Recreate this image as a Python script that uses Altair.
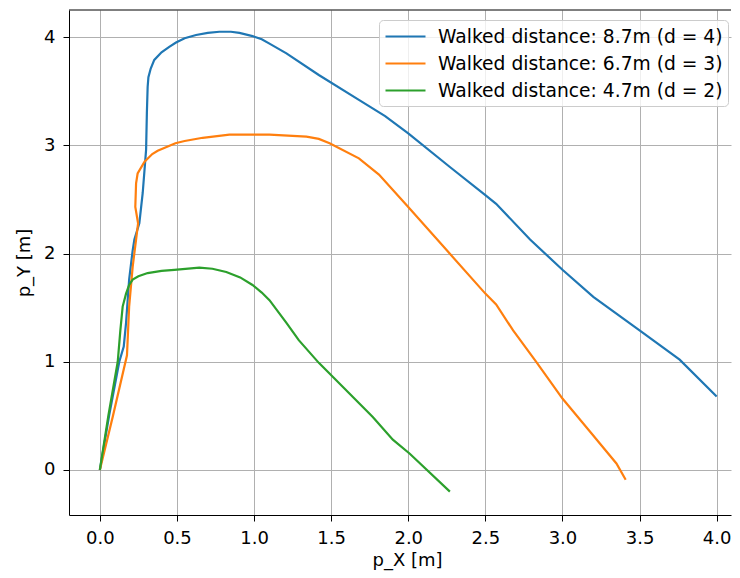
import altair as alt
import pandas as pd

labels = ["Walked distance: 8.7m (d = 4)",
          "Walked distance: 6.7m (d = 3)",
          "Walked distance: 4.7m (d = 2)"]
colors = ["#1f77b4", "#ff7f0e", "#2ca02c"]

blue_x = [0.0, 0.06, 0.126, 0.155, 0.17, 0.19, 0.213, 0.224, 0.256, 0.278, 0.30, 0.305, 0.31,
          0.315, 0.33, 0.353, 0.40, 0.45, 0.494, 0.55, 0.624, 0.70, 0.775, 0.85, 0.905, 0.99,
          1.05, 1.10, 1.21, 1.42, 1.68, 1.85, 2.0, 2.27, 2.50, 2.57, 2.79, 3.0, 3.20, 3.50,
          3.76, 4.0]
blue_y = [0.0, 0.5, 1.0, 1.14, 1.36, 1.76, 2.03, 2.13, 2.28, 2.56, 2.96, 3.30, 3.54,
          3.63, 3.71, 3.79, 3.86, 3.91, 3.95, 3.99, 4.02, 4.04, 4.05, 4.05, 4.04, 4.01,
          3.98, 3.94, 3.85, 3.65, 3.42, 3.27, 3.11, 2.80, 2.54, 2.46, 2.13, 1.85, 1.60, 1.29,
          1.02, 0.68]

orange_x = [0.0, 0.085, 0.176, 0.19, 0.213, 0.235, 0.248, 0.23, 0.235, 0.245, 0.29, 0.34,
            0.375, 0.49, 0.55, 0.667, 0.84, 1.10, 1.34, 1.42, 1.49, 1.68, 1.81, 2.0, 2.25,
            2.50, 2.57, 2.68, 2.83, 3.0, 3.17, 3.35, 3.41]
orange_y = [0.0, 0.5, 1.06, 1.51, 1.88, 2.13, 2.28, 2.43, 2.65, 2.74, 2.85, 2.92,
            2.95, 3.02, 3.04, 3.07, 3.10, 3.10, 3.08, 3.06, 3.02, 2.88, 2.73, 2.43, 2.03,
            1.63, 1.53, 1.29, 1.0, 0.66, 0.37, 0.06, -0.09]

green_x = [0.0, 0.055, 0.116, 0.133, 0.148, 0.17, 0.19, 0.213, 0.25, 0.31, 0.40, 0.483,
           0.645, 0.73, 0.82, 0.91, 0.99, 1.05, 1.10, 1.21, 1.29, 1.42, 1.575, 1.77, 1.90,
           2.01, 2.27]
green_y = [0.0, 0.5, 1.0, 1.29, 1.51, 1.63, 1.71, 1.76, 1.79, 1.82, 1.84, 1.85,
           1.87, 1.86, 1.83, 1.78, 1.71, 1.64, 1.57, 1.36, 1.20, 0.99, 0.77, 0.49, 0.28,
           0.15, -0.20]

x_ticks = [0.0, 0.5, 1.0, 1.5, 2.0, 2.5, 3.0, 3.5, 4.0]
y_ticks = [0, 1, 2, 3, 4]

rows = []
for lab, xs, ys in zip(labels, [blue_x, orange_x, green_x], [blue_y, orange_y, green_y]):
    for i, (a, b) in enumerate(zip(xs, ys)):
        rows.append({"series": lab, "i": i, "px": a, "py": b})
df = pd.DataFrame(rows)

W, H = 662, 505
FONT = "DejaVu Sans"

lines = alt.Chart(df).mark_line(strokeWidth=2.2, clip=True).encode(
    x=alt.X("px:Q",
            scale=alt.Scale(domain=[-0.2, 4.093], nice=False, zero=False),
            axis=alt.Axis(values=x_ticks, format=".1f", title="p_X [m]", titleX=338,
                          titlePadding=4)),
    y=alt.Y("py:Q",
            scale=alt.Scale(domain=[-0.416, 4.251], nice=False, zero=False),
            axis=alt.Axis(values=y_ticks, format="d", title="p_Y [m]", titlePadding=10)),
    color=alt.Color("series:N",
                    scale=alt.Scale(domain=labels, range=colors),
                    legend=alt.Legend(title=None, orient="none", legendX=310, legendY=10,
                                      symbolType="M-2,0H2", symbolSize=400,
                                      symbolStrokeWidth=2.2, symbolOffset=10,
                                      labelOffset=21, padding=5, rowPadding=5,
                                      fillColor="rgba(255,255,255,0.8)",
                                      strokeColor="#cccccc", cornerRadius=4,
                                      labelFont=FONT, labelFontSize=18.7,
                                      labelColor="#000000", labelLimit=0)),
    order="i:Q",
)

top = alt.Chart(pd.DataFrame({"a": [0]})).mark_rule(color="black", strokeWidth=1).encode(
    y=alt.value(0), x=alt.value(0), x2=alt.value(W))

chart = alt.layer(lines, top).properties(
    width=W, height=H,
    background="white",
    autosize=alt.AutoSizeParams(type="none"),
    padding={"left": 61, "top": 2, "right": 1, "bottom": 61},
).configure_view(stroke=None).configure_axis(
    domainColor="black", domainWidth=1,
    tickColor="black", tickSize=6, tickWidth=1,
    grid=True, gridColor="#b0b0b0", gridWidth=1,
    labelFont=FONT, labelFontSize=18, labelColor="black", labelPadding=8,
    titleFont=FONT, titleFontSize=18, titleFontWeight="normal", titleColor="black",
)

chart.save("out.html", embed_options={"renderer": "svg", "actions": False})
